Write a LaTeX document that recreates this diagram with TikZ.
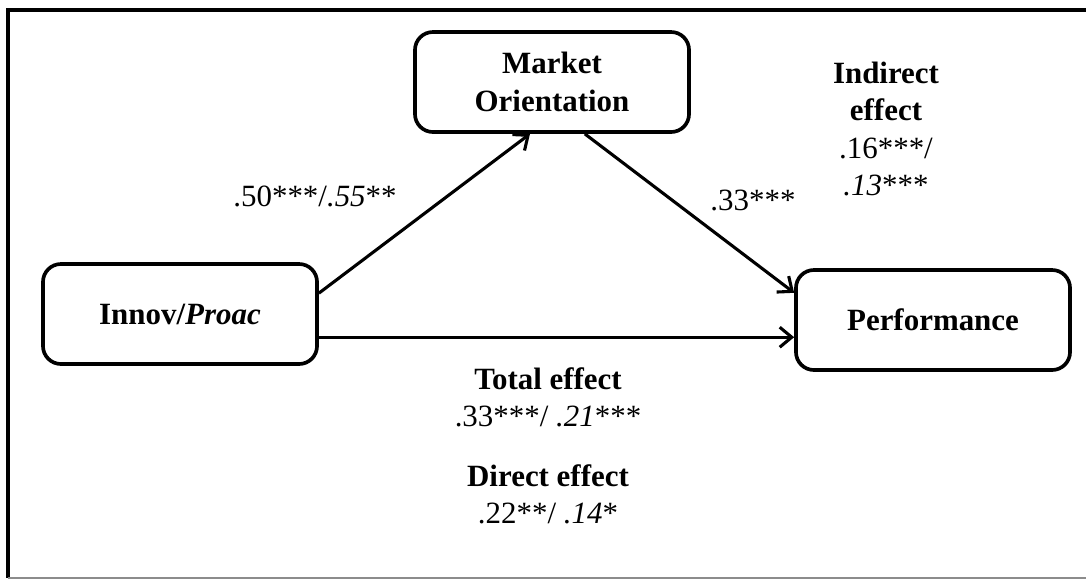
\documentclass[tikz,border=0pt]{standalone}
\usepackage{fontspec}
\setmainfont{Liberation Serif}
\usepackage{tikz}
\usetikzlibrary{shapes,arrows.meta,calc}
\tikzstyle{block} = [draw, rectangle, rounded corners=0.45cm, line width=2.6pt,
    minimum height=2.5cm, minimum width=6.85cm, align=center]
\tikzstyle{label} = [align=center, inner sep=0pt]
\tikzstyle{link} = [line width=2.2pt]

\begin{document}
\begin{tikzpicture}[x=0.025cm, y=-0.025cm, >={Straight Barb[length=0.3cm, width=0.5cm, line width=2.2pt]},
    font=\fontsize{22}{26.5}\selectfont]
    \useasboundingbox (0,0) rectangle (1086,581);
    % the frame, open on the right
    \draw [line width=2.4pt] (1086,10) -- (8,10) -- (8,578);
    \draw [line width=1pt, black!45] (8,578) -- (1086,578);
    % We start by placing the blocks
    \node [block] (mo) at (552,82) {\textbf{Market}\\\textbf{Orientation}};
    \node [block] (innov) at (180,314) {\textbf{Innov/\textit{Proac}}};
    \node [block] (perf) at (933,320) {\textbf{Performance}};

    % Once the nodes are placed, connecting them is easy.
    \draw [link,->] ([yshift=0.52cm]innov.east) -- ([xshift=-0.55cm]mo.south);
    \draw [link,->] ([xshift=0.82cm]mo.south) -- ([yshift=0.68cm]perf.west);
    \coordinate (low) at ([yshift=-0.58cm]innov.east);
    \draw [link,->] (low) -- (low -| perf.west);

    % the effects
    \node [label] (a) at (315,196) {.50***/\textit{.55}**};
    \node [label] (b) at (753,200) {.33***};
    \node [label] (ind) at (886,129) {\textbf{Indirect}\\\textbf{effect}\\.16***/\\\textit{.13}***};
    \node [label] (tot) at (548,397) {\textbf{Total effect}\\.33***/ \textit{.21}***};
    \node [label] (dir) at (548,494) {\textbf{Direct effect}\\.22**/ \textit{.14}*};
\end{tikzpicture}
\end{document}
